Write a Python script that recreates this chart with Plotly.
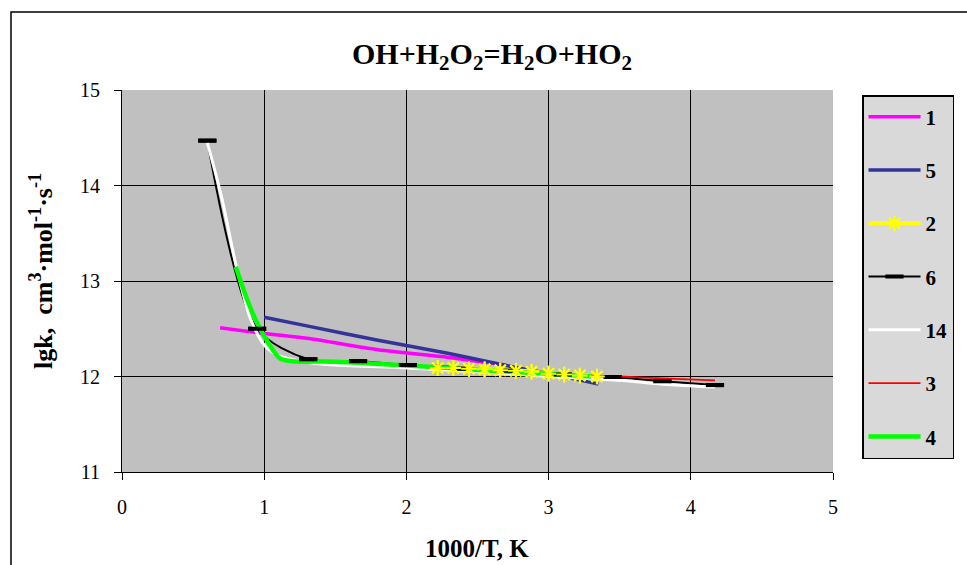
import plotly.graph_objects as go

# ---- data ----
# Series 1 (magenta)
x1 = [0.69, 1.0, 1.3, 1.8, 2.3, 2.7]
y1 = [12.51, 12.45, 12.40, 12.28, 12.20, 12.12]
# Series 5 (dark blue)
x5 = [1.0, 1.3, 1.8, 2.3, 2.75, 3.0, 3.35]
y5 = [12.62, 12.53, 12.38, 12.24, 12.10, 12.03, 11.92]
# Series 2 (yellow, asterisk markers)
x2 = [2.22, 2.33, 2.44, 2.55, 2.66, 2.77, 2.88, 3.0, 3.11, 3.22, 3.34]
y2 = [12.09, 12.09, 12.08, 12.075, 12.065, 12.06, 12.05, 12.03, 12.02, 12.01, 12.0]
# Series 6 (black, dash markers)
x6 = [0.60, 0.95, 1.31, 1.66, 2.01, 2.38, 2.73, 3.10, 3.45, 3.80, 4.17]
y6 = [14.47, 12.50, 12.18, 12.16, 12.12, 12.08, 12.06, 12.02, 11.995, 11.95, 11.91]
# Series 14 (white)
x14 = [0.60, 0.70, 0.80, 0.90, 1.00, 1.10, 1.30, 1.50, 2.00, 2.50, 3.00, 3.50, 3.80, 4.17]
y14 = [14.45, 13.88, 13.18, 12.62, 12.33, 12.22, 12.15, 12.12, 12.09, 12.05, 12.0, 11.96, 11.92, 11.89]
# Series 3 (red)
x3 = [2.2, 2.6, 3.0, 3.5, 3.8, 4.17]
y3 = [12.12, 12.07, 12.03, 12.0, 11.98, 11.96]
# Series 4 (green)
x4 = [0.80, 0.90, 0.99, 1.11, 1.2, 1.49, 2.19, 2.6, 3.0, 3.3]
y4 = [13.15, 12.73, 12.45, 12.19, 12.16, 12.155, 12.10, 12.06, 12.03, 12.0]

x_ticks = [0, 1, 2, 3, 4, 5]
y_ticks = [11, 12, 13, 14, 15]

FONT = "Liberation Serif"

fig = go.Figure()

DASH = dict(symbol="line-ew-open", size=13, color="#000000",
            line=dict(color="#000000", width=4))
STAR = dict(symbol="asterisk-open", size=13, color="#ffff00",
            line=dict(color="#ffff00", width=2))

def add_line(x, y, name, color, width, marker=None, mode="lines"):
    fig.add_trace(go.Scatter(
        x=x, y=y, name="<b>%s</b>" % name, legendgroup=name,
        mode=mode, line=dict(color=color, width=width, shape="spline", smoothing=0.8),
        marker=marker, showlegend=True, hoverinfo="skip"))

add_line(x1, y1, "1", "#ff00ff", 3.5)
add_line(x5, y5, "5", "#333399", 3.5)
add_line(x2, y2, "2", "#ffff00", 4.5, mode="lines+markers", marker=STAR)
add_line(x6, y6, "6", "#000000", 2, mode="lines+markers", marker=DASH)
add_line(x14, y14, "14", "#ffffff", 3)
add_line(x3, y3, "3", "#ff0000", 1.8)
add_line(x4, y4, "4", "#00ff00", 4.5)

# markers drawn on top of all lines
fig.add_trace(go.Scatter(x=x6, y=y6, mode="markers", showlegend=False, hoverinfo="skip", marker=DASH))
fig.add_trace(go.Scatter(x=x2, y=y2, mode="markers", showlegend=False, hoverinfo="skip", marker=STAR))

fig.update_layout(
    width=967, height=565,
    margin=dict(l=122, r=134, t=90, b=93, autoexpand=False),
    paper_bgcolor="white", plot_bgcolor="#c0c0c0",
    font=dict(family=FONT, color="black", size=20),
    title=dict(text="<b>OH+H<sub>2</sub>O<sub>2</sub>=H<sub>2</sub>O+HO<sub>2</sub></b>",
               x=492 / 967, xanchor="center", y=1 - 53 / 565, yanchor="middle",
               font=dict(family=FONT, size=30, color="black")),
    xaxis=dict(range=[0, 5], tickvals=x_ticks, showgrid=True, gridcolor="black", gridwidth=1,
               ticks="outside", ticklen=7, tickcolor="black", tickwidth=1,
               showline=True, linecolor="black", linewidth=1, zeroline=False,
               ticklabelstandoff=10, tickfont=dict(size=20), fixedrange=True),
    yaxis=dict(range=[11, 15], tickvals=y_ticks, showgrid=True, gridcolor="black", gridwidth=1,
               ticks="outside", ticklen=7, tickcolor="black", tickwidth=1,
               showline=True, linecolor="black", linewidth=1, zeroline=False,
               ticklabelstandoff=10, tickfont=dict(size=20), fixedrange=True),
    legend=dict(xref="container", yref="container", x=862 / 967, y=1 - 95 / 565,
                xanchor="left", yanchor="top", maxheight=460,
                bgcolor="#d9d9d9", bordercolor="black", borderwidth=1.5,
                font=dict(family=FONT, size=21, color="black"),
                tracegroupgap=23, traceorder="grouped", itemwidth=52),
    annotations=[
        dict(text="<b>1000/T, K</b>", xref="paper", yref="paper", x=(477 - 122) / 711,
             y=(472 - 548) / 382, xanchor="center", yanchor="middle", showarrow=False,
             font=dict(family=FONT, size=25, color="black")),
        dict(text="<b>lgk,  cm<sup>3</sup>·mol<sup>-1</sup>·s<sup>-1</sup></b>", xref="paper", yref="paper",
             x=(41 - 122) / 711, y=(472 - 271) / 382, textangle=-90,
             xanchor="center", yanchor="middle", showarrow=False,
             font=dict(family=FONT, size=26, color="black")),
    ],
    shapes=[
        dict(type="rect", xref="paper", yref="paper",
             x0=(11 - 122) / 711, x1=(975 - 122) / 711,
             y0=(472 - 575) / 382, y1=(472 - 12) / 382,
             line=dict(color="black", width=1.5)),
    ],
)

fig.write_html("out.html", config={"displayModeBar": False},
               post_script="document.body.style.margin='0px';document.body.style.overflow='hidden';")
